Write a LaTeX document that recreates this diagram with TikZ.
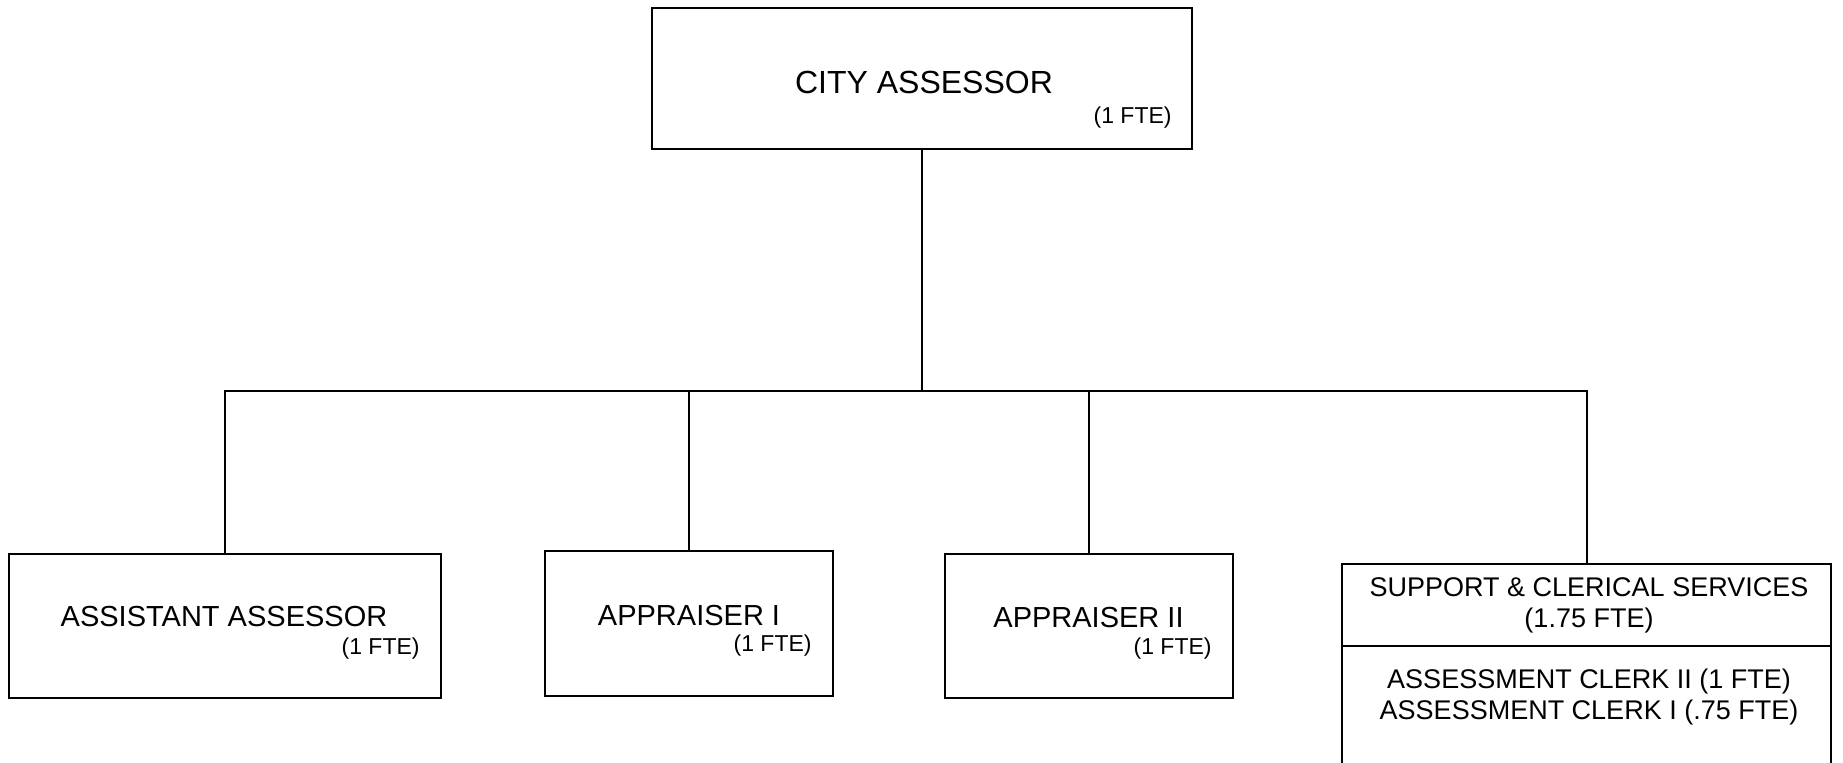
\documentclass[tikz,border=0pt]{standalone}
\usepackage{fontspec}
\setmainfont{Liberation Sans}
\begin{document}
\begin{tikzpicture}[x=0.5pt,y=-0.5pt,
  box/.style={draw=black,line width=1pt,rectangle,inner sep=0pt},
  conn/.style={draw=black,line width=1pt},
  big/.style={font=\fontsize{16}{19}\selectfont,inner sep=0pt},
  lbl/.style={font=\fontsize{14.5}{17}\selectfont,inner sep=0pt},
  fte/.style={font=\fontsize{11.5}{14}\selectfont,inner sep=0pt},
  lines/.style={font=\fontsize{13.5}{15.5}\selectfont,inner sep=0pt,align=center}]
\useasboundingbox (0,0) rectangle (1843,762);
% boxes
\node[box,minimum width=270pt,minimum height=70.5pt] (city) at (922,78.5) {};
\node[box,minimum width=216pt,minimum height=72pt] (asst) at (225,626) {};
\node[box,minimum width=144pt,minimum height=72.5pt] (app1) at (689,623.5) {};
\node[box,minimum width=144pt,minimum height=72pt] (app2) at (1089,626) {};
\node[box,minimum width=244.5pt,minimum height=110pt] (supp) at (1586.5,674) {};
% texts
\node[big] (tcity) at (924,82) {CITY ASSESSOR};
\node[fte,anchor=east] (fcity) at (1172,118) {(1 FTE)};
\node[lbl] (tasst) at (224,617) {ASSISTANT ASSESSOR};
\node[fte,anchor=east] (fasst) at (420,649) {(1 FTE)};
\node[lbl] (tapp1) at (689,616) {APPRAISER I};
\node[fte,anchor=east] (fapp1) at (812,646) {(1 FTE)};
\node[lbl] (tapp2) at (1088.5,618) {APPRAISER II};
\node[fte,anchor=east] (fapp2) at (1212,649) {(1 FTE)};
\node[lines] (tsupp) at (1589,605.5) {SUPPORT \& CLERICAL SERVICES\\(1.75 FTE)};
\node[lines] (tclerk) at (1589,697) {ASSESSMENT CLERK II (1 FTE)\\ASSESSMENT CLERK I (.75 FTE)};
\coordinate (dl) at (1342,646);
\coordinate (dr) at (1831,646);
\draw[conn] (dl) -- (dr);
% connectors
\coordinate (j) at (922,391);
\draw[conn] (city.south) -- (j);
\draw[conn] (asst.north) |- (j);
\draw[conn] (app1.north) |- (j);
\draw[conn] (app2.north) |- (j);
\draw[conn] (supp.north) |- (j);
\end{tikzpicture}
\end{document}
